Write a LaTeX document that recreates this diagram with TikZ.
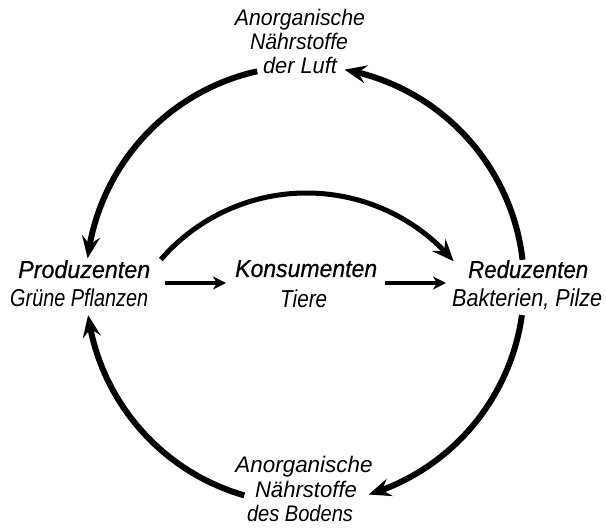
\documentclass[tikz,border=0pt]{standalone}
\usepackage{fontspec}
\setmainfont{Liberation Sans}
\newfontface\lblfont{Liberation Sans Italic}
\newfontface\headfont{Liberation Sans Italic}[FakeBold=0.6]
\usetikzlibrary{arrows.meta,bending}
\newcommand{\fitto}[2]{\resizebox{#1}{\height}{#2}}
\begin{document}
\begin{tikzpicture}[x=1pt,y=1pt,
  cyc/.style={line width=6pt, -{Stealth[length=22pt,width=18pt,inset=8pt]}},
  flow/.style={line width=4pt, -{Stealth[length=13pt,width=13pt,inset=4pt]}},
  head/.style={inner sep=0pt, anchor=base west, font=\headfont\fontsize{24.5}{28}\selectfont},
  sub/.style={inner sep=0pt, anchor=base west, font=\lblfont\fontsize{24.5}{28}\selectfont},
  res/.style={inner sep=0pt, anchor=base, font=\lblfont\fontsize{22.5}{24}\selectfont}]
\fill[white] (0,0) rectangle (606,530);
\useasboundingbox (0,0) rectangle (606,530);

% labels
\node[head] (prod) at (18,252) {\fitto{132pt}{Produzenten}};
\node[sub] (prodsub) at (10,223) {\fitto{138pt}{Grüne Pflanzen}};
\node[head] (kons) at (235,253) {\fitto{142pt}{Konsumenten}};
\node[sub] (konssub) at (280,222) {\fitto{47pt}{Tiere}};
\node[head] (red) at (468,252) {\fitto{120pt}{Reduzenten}};
\node[sub] (redsub) at (452,223) {\fitto{150pt}{Bakterien, Pilze}};

\node[res] (luftA) at (300,504) {\fitto{130pt}{Anorganische}};
\node[res] (luftB) at (299,480) {\fitto{98pt}{Nährstoffe}};
\node[res] (luftC) at (300,456) {\fitto{74pt}{der Luft}};

\node[res] (bodA) at (304,57) {\fitto{137pt}{Anorganische}};
\node[res] (bodB) at (306,32) {\fitto{102pt}{Nährstoffe}};
\node[res] (bodC) at (300,8) {\fitto{106pt}{des Bodens}};

% centres of the arcs
\coordinate (c) at (305,245);
\coordinate (ci) at (306.5,144.3);

% outer cycle
\draw[cyc] (c) ++(102.6:219) arc[start angle=102.6, end angle=173.0, radius=219];
\draw[cyc] (c) ++(6.6:219) arc[start angle=6.6, end angle=79.6, radius=219];
\draw[cyc] (c) ++(-7.9:219) arc[start angle=-7.9, end angle=-73.1, radius=219];
\draw[cyc] (c) ++(-106.1:219) arc[start angle=-106.1, end angle=-172.1, radius=219];

% inner arc
\draw[cyc, line width=5pt] (ci) ++(139.1:192.7) arc[start angle=139.1, end angle=40.2, radius=192.7];

% straight arrows
\coordinate (s1) at (165,247);
\coordinate (e1) at (226,247);
\coordinate (s2) at (385,247);
\coordinate (e2) at (446,247);
\draw[flow] (s1) -- (e1);
\draw[flow] (s2) -- (e2);
\end{tikzpicture}
\end{document}
